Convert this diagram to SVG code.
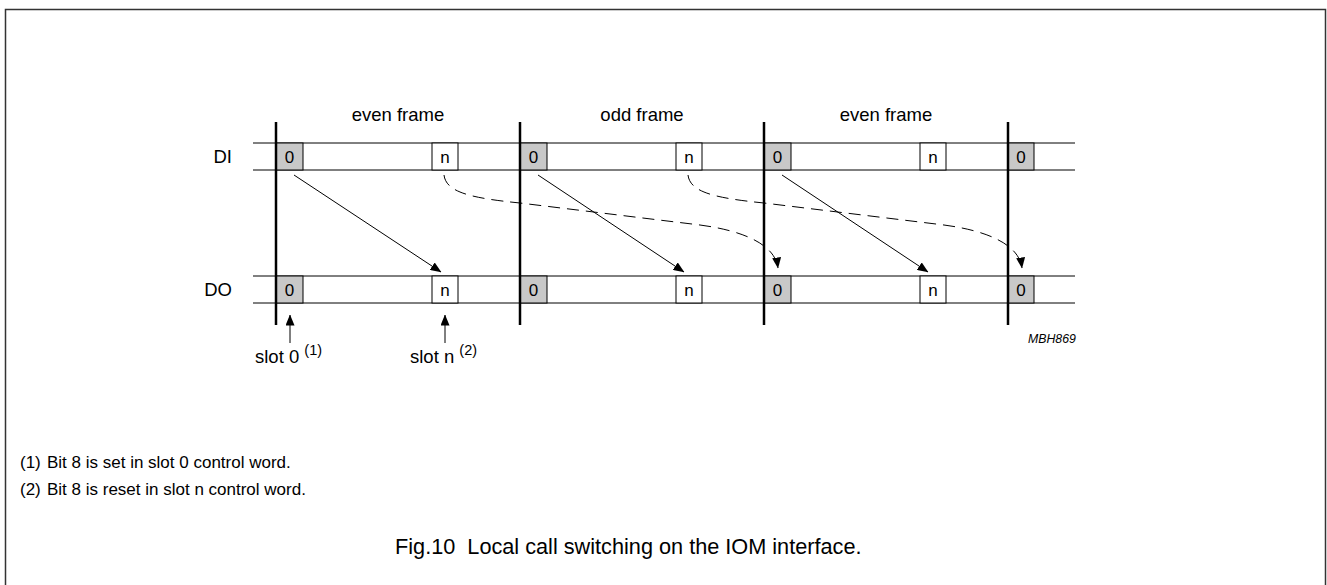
<svg xmlns="http://www.w3.org/2000/svg" width="1327" height="585" viewBox="0 0 1327 585">
<style>
text{font-family:"Liberation Sans",Arial,sans-serif;fill:#000}
.lbl{font-size:18.5px}
.cell{font-size:17px;text-anchor:middle}
.g{fill:#c8c8c8;stroke:#000;stroke-width:1}
.w{fill:#fff;stroke:#000;stroke-width:1}
.row{stroke:#000;stroke-width:1;fill:none}
.bar{stroke:#000;stroke-width:2.5;fill:none}
.sol{stroke:#000;stroke-width:1;fill:none}
.dash{stroke:#000;stroke-width:1;fill:none;stroke-dasharray:12,7}
.note{font-size:17px}
</style>
<defs>
<marker id="ah" markerWidth="11" markerHeight="9" refX="10.5" refY="4.5" orient="auto" markerUnits="userSpaceOnUse">
<path d="M0,0 L11,4.5 L0,9 Z" fill="#000"/>
</marker>
</defs>
<rect x="5.5" y="9.5" width="1320" height="600" fill="#fff" stroke="#333" stroke-width="1.5"/>
<g id="rows">
<line class="row" x1="253" y1="143" x2="1075" y2="143"/>
<line class="row" x1="253" y1="170" x2="1075" y2="170"/>
<line class="row" x1="253" y1="276" x2="1075" y2="276"/>
<line class="row" x1="253" y1="303" x2="1075" y2="303"/>
<text class="lbl" x="232" y="163" text-anchor="end">DI</text>
<text class="lbl" x="232" y="296" text-anchor="end">DO</text>
</g>
<g id="frame-labels">
<text class="lbl" x="398" y="121" text-anchor="middle">even frame</text>
<text class="lbl" x="642" y="121" text-anchor="middle">odd frame</text>
<text class="lbl" x="886" y="121" text-anchor="middle">even frame</text>
</g>
<g id="di-cells">
<rect class="g" x="276" y="143" width="27" height="27"/><text class="cell" x="289.5" y="163">0</text>
<rect class="w" x="432" y="143" width="26" height="27"/><text class="cell" x="445" y="163">n</text>
<rect class="g" x="520" y="143" width="27" height="27"/><text class="cell" x="533.5" y="163">0</text>
<rect class="w" x="676" y="143" width="26" height="27"/><text class="cell" x="689" y="163">n</text>
<rect class="g" x="764" y="143" width="27" height="27"/><text class="cell" x="777.5" y="163">0</text>
<rect class="w" x="920" y="143" width="26" height="27"/><text class="cell" x="933" y="163">n</text>
<rect class="g" x="1008" y="143" width="26" height="27"/><text class="cell" x="1021" y="163">0</text>
</g>
<g id="do-cells">
<rect class="g" x="276" y="276" width="27" height="27"/><text class="cell" x="289.5" y="296">0</text>
<rect class="w" x="432" y="276" width="26" height="27"/><text class="cell" x="445" y="296">n</text>
<rect class="g" x="520" y="276" width="27" height="27"/><text class="cell" x="533.5" y="296">0</text>
<rect class="w" x="676" y="276" width="26" height="27"/><text class="cell" x="689" y="296">n</text>
<rect class="g" x="764" y="276" width="27" height="27"/><text class="cell" x="777.5" y="296">0</text>
<rect class="w" x="920" y="276" width="26" height="27"/><text class="cell" x="933" y="296">n</text>
<rect class="g" x="1008" y="276" width="26" height="27"/><text class="cell" x="1021" y="296">0</text>
</g>
<g id="frame-bars">
<line class="bar" x1="276" y1="122" x2="276" y2="325"/>
<line class="bar" x1="520" y1="122" x2="520" y2="325"/>
<line class="bar" x1="764" y1="122" x2="764" y2="325"/>
<line class="bar" x1="1008" y1="122" x2="1008" y2="325"/>
</g>
<g id="connectors">
<line class="sol" x1="294" y1="175" x2="441" y2="272" marker-end="url(#ah)"/>
<line class="sol" x1="538" y1="175" x2="684" y2="272" marker-end="url(#ah)"/>
<line class="sol" x1="782" y1="175" x2="928" y2="272" marker-end="url(#ah)"/>
<path class="dash" d="M444,175 C446,192 470,198 520,203 L700,225 C745,231 775,245 778,268" marker-end="url(#ah)"/>
<path class="dash" d="M688,175 C690,192 714,198 764,203 L944,225 C989,231 1019,245 1022,268" marker-end="url(#ah)"/>
<line class="sol" x1="290" y1="343" x2="290" y2="315" marker-end="url(#ah)"/>
<line class="sol" x1="445" y1="343" x2="445" y2="315" marker-end="url(#ah)"/>
</g>
<g id="slot-labels">
<text class="lbl" x="255" y="363">slot 0 <tspan font-size="14.5" dy="-8">(1)</tspan></text>
<text class="lbl" x="410" y="363">slot n <tspan font-size="14.5" dy="-8">(2)</tspan></text>
<text x="1028" y="343" font-size="12.3" font-style="italic">MBH869</text>
</g>
<g id="notes">
<text class="note" x="20" y="468">(1)</text>
<text class="note" x="47" y="468">Bit 8 is set in slot 0 control word.</text>
<text class="note" x="20" y="495">(2)</text>
<text class="note" x="47" y="495">Bit 8 is reset in slot n control word.</text>
<text x="395" y="554" font-size="21.7" xml:space="preserve">Fig.10  Local call switching on the IOM interface.</text>
</g>
</svg>
